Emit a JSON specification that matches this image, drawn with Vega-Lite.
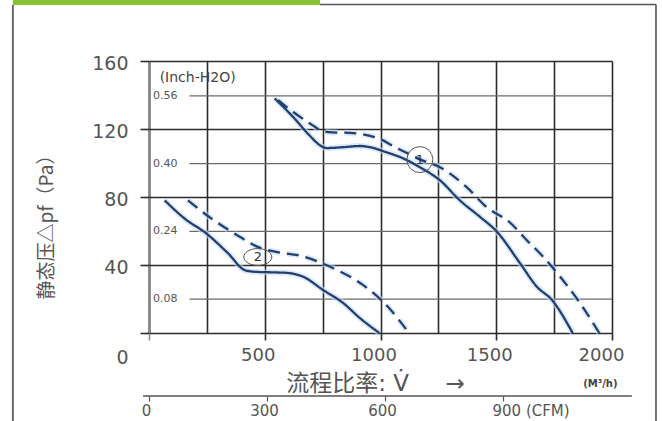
{
  "$schema": "https://vega.github.io/schema/vega-lite/v6.json",
  "width": 463,
  "height": 272,
  "autosize": {"type": "none"},
  "padding": {"left": 149, "top": 61, "right": 50, "bottom": 88},
  "background": "white",
  "config": {"view": {"stroke": null}, "font": "DejaVu Sans"},
  "datasets": {
    "curves": [
      {"curve": "1-50", "freq": "50Hz", "flow": 543, "pressure": 138},
      {"curve": "1-50", "freq": "50Hz", "flow": 623, "pressure": 127},
      {"curve": "1-50", "freq": "50Hz", "flow": 695, "pressure": 116},
      {"curve": "1-50", "freq": "50Hz", "flow": 738, "pressure": 110.5},
      {"curve": "1-50", "freq": "50Hz", "flow": 767, "pressure": 108.8},
      {"curve": "1-50", "freq": "50Hz", "flow": 839, "pressure": 109.3},
      {"curve": "1-50", "freq": "50Hz", "flow": 911, "pressure": 110},
      {"curve": "1-50", "freq": "50Hz", "flow": 954, "pressure": 109.3},
      {"curve": "1-50", "freq": "50Hz", "flow": 1026, "pressure": 106.3},
      {"curve": "1-50", "freq": "50Hz", "flow": 1100, "pressure": 102.6},
      {"curve": "1-50", "freq": "50Hz", "flow": 1170, "pressure": 97.5},
      {"curve": "1-50", "freq": "50Hz", "flow": 1257, "pressure": 89.8},
      {"curve": "1-50", "freq": "50Hz", "flow": 1343, "pressure": 78},
      {"curve": "1-50", "freq": "50Hz", "flow": 1430, "pressure": 68.3},
      {"curve": "1-50", "freq": "50Hz", "flow": 1500, "pressure": 60},
      {"curve": "1-50", "freq": "50Hz", "flow": 1603, "pressure": 41},
      {"curve": "1-50", "freq": "50Hz", "flow": 1675, "pressure": 27.3},
      {"curve": "1-50", "freq": "50Hz", "flow": 1740, "pressure": 19.5},
      {"curve": "1-50", "freq": "50Hz", "flow": 1830, "pressure": 0},
      {"curve": "1-60", "freq": "60Hz", "flow": 558, "pressure": 137},
      {"curve": "1-60", "freq": "60Hz", "flow": 623, "pressure": 130},
      {"curve": "1-60", "freq": "60Hz", "flow": 709, "pressure": 122},
      {"curve": "1-60", "freq": "60Hz", "flow": 738, "pressure": 119.5},
      {"curve": "1-60", "freq": "60Hz", "flow": 790, "pressure": 118},
      {"curve": "1-60", "freq": "60Hz", "flow": 868, "pressure": 117.7},
      {"curve": "1-60", "freq": "60Hz", "flow": 955, "pressure": 116},
      {"curve": "1-60", "freq": "60Hz", "flow": 1000, "pressure": 114},
      {"curve": "1-60", "freq": "60Hz", "flow": 1060, "pressure": 109.5},
      {"curve": "1-60", "freq": "60Hz", "flow": 1120, "pressure": 105.5},
      {"curve": "1-60", "freq": "60Hz", "flow": 1172, "pressure": 102},
      {"curve": "1-60", "freq": "60Hz", "flow": 1257, "pressure": 97.5},
      {"curve": "1-60", "freq": "60Hz", "flow": 1372, "pressure": 85.8},
      {"curve": "1-60", "freq": "60Hz", "flow": 1459, "pressure": 74},
      {"curve": "1-60", "freq": "60Hz", "flow": 1559, "pressure": 65},
      {"curve": "1-60", "freq": "60Hz", "flow": 1632, "pressure": 54.6},
      {"curve": "1-60", "freq": "60Hz", "flow": 1703, "pressure": 44.8},
      {"curve": "1-60", "freq": "60Hz", "flow": 1776, "pressure": 33.1},
      {"curve": "1-60", "freq": "60Hz", "flow": 1862, "pressure": 17.6},
      {"curve": "1-60", "freq": "60Hz", "flow": 1945, "pressure": 0},
      {"curve": "2-50", "freq": "50Hz", "flow": 68, "pressure": 78},
      {"curve": "2-50", "freq": "50Hz", "flow": 154, "pressure": 67.3},
      {"curve": "2-50", "freq": "50Hz", "flow": 248, "pressure": 58.5},
      {"curve": "2-50", "freq": "50Hz", "flow": 342, "pressure": 46.8},
      {"curve": "2-50", "freq": "50Hz", "flow": 414, "pressure": 37},
      {"curve": "2-50", "freq": "50Hz", "flow": 457, "pressure": 36},
      {"curve": "2-50", "freq": "50Hz", "flow": 558, "pressure": 35.6},
      {"curve": "2-50", "freq": "50Hz", "flow": 594, "pressure": 35.4},
      {"curve": "2-50", "freq": "50Hz", "flow": 666, "pressure": 33.1},
      {"curve": "2-50", "freq": "50Hz", "flow": 752, "pressure": 25.3},
      {"curve": "2-50", "freq": "50Hz", "flow": 839, "pressure": 17.6},
      {"curve": "2-50", "freq": "50Hz", "flow": 911, "pressure": 8.8},
      {"curve": "2-50", "freq": "50Hz", "flow": 995, "pressure": 0},
      {"curve": "2-60", "freq": "60Hz", "flow": 168, "pressure": 78},
      {"curve": "2-60", "freq": "60Hz", "flow": 270, "pressure": 67.3},
      {"curve": "2-60", "freq": "60Hz", "flow": 392, "pressure": 56.6},
      {"curve": "2-60", "freq": "60Hz", "flow": 472, "pressure": 50.5},
      {"curve": "2-60", "freq": "60Hz", "flow": 544, "pressure": 47.8},
      {"curve": "2-60", "freq": "60Hz", "flow": 652, "pressure": 45.5},
      {"curve": "2-60", "freq": "60Hz", "flow": 730, "pressure": 42},
      {"curve": "2-60", "freq": "60Hz", "flow": 794, "pressure": 38.2},
      {"curve": "2-60", "freq": "60Hz", "flow": 924, "pressure": 28.3},
      {"curve": "2-60", "freq": "60Hz", "flow": 1032, "pressure": 15.4},
      {"curve": "2-60", "freq": "60Hz", "flow": 1123, "pressure": 0}
    ],
    "inch": [
      {"label": "0.56", "pa": 139.5},
      {"label": "0.40", "pa": 99.6},
      {"label": "0.24", "pa": 59.8},
      {"label": "0.08", "pa": 19.9}
    ],
    "markers": [
      {"label": "1", "flow": 1170, "pressure": 102},
      {"label": "2", "flow": 470, "pressure": 44.7}
    ]
  },
  "resolve": {"axis": {"x": "independent", "y": "independent"}},
  "layer": [
    {
      "data": {"values": [{}]},
      "mark": {"type": "rect", "color": "#86c232", "clip": false},
      "encoding": {
        "x": {"datum": -588, "scale": {"domain": [0, 2000], "nice": false, "zero": false}, "axis": null},
        "x2": {"datum": 739},
        "y": {"datum": 196, "scale": {"domain": [0, 160], "nice": false, "zero": false}, "axis": null},
        "y2": {"datum": 193}
      }
    },
    {
      "data": {"values": [{}]},
      "mark": {"type": "rule", "color": "#555555", "strokeWidth": 1.6, "clip": false},
      "encoding": {
        "x": {"datum": 739, "scale": {"domain": [0, 2000], "nice": false, "zero": false}, "axis": null},
        "x2": {"datum": 2190},
        "y": {"datum": 193.2, "scale": {"domain": [0, 160], "nice": false, "zero": false}, "axis": null}
      }
    },
    {
      "data": {"values": [{}]},
      "mark": {"type": "rule", "color": "#666666", "strokeWidth": 2, "clip": false},
      "encoding": {
        "x": {"datum": -588, "scale": {"domain": [0, 2000], "nice": false, "zero": false}, "axis": null},
        "y": {"datum": 193, "scale": {"domain": [0, 160], "nice": false, "zero": false}, "axis": null},
        "y2": {"datum": -54}
      }
    },
    {
      "data": {"values": [{}]},
      "mark": {"type": "rule", "color": "#555555", "strokeWidth": 1.6, "clip": false},
      "encoding": {
        "x": {"datum": 2190, "scale": {"domain": [0, 2000], "nice": false, "zero": false}, "axis": null},
        "y": {"datum": 193.2, "scale": {"domain": [0, 160], "nice": false, "zero": false}, "axis": null},
        "y2": {"datum": -54}
      }
    },
    {
      "data": {"name": "inch"},
      "mark": {"type": "rule", "color": "#6a6a6a", "strokeWidth": 1.3, "clip": false},
      "encoding": {
        "x": {"datum": 175, "scale": {"domain": [0, 2000], "nice": false, "zero": false},
          "axis": {"orient": "top", "values": [0, 250, 500, 750, 1000, 1250, 1500, 1750, 2000], "grid": true,
            "gridColor": {"condition": {"test": "datum.value === 0", "value": "#8c8c8c"}, "value": "#2b2b2b"},
            "gridWidth": {"condition": {"test": "datum.value === 0", "value": 3}, "value": 1.6},
            "labels": false, "ticks": false, "domain": false, "title": null}},
        "x2": {"datum": 2000},
        "y": {"field": "pa", "type": "quantitative", "scale": {"domain": [0, 160], "nice": false, "zero": false},
          "axis": {"orient": "left", "values": [0, 40, 80, 120, 160], "grid": true, "gridColor": "#2b2b2b", "gridWidth": 1.6, "domain": false,
            "tickSize": 9, "tickColor": "#2b2b2b", "tickWidth": 1.6, "labelPadding": 12, "labelFontSize": 19,
            "labelColor": "#555555", "labelFont": "DejaVu Sans",
            "labelOffset": {"condition": {"test": "datum.value === 0", "value": 24}, "value": 2},
            "title": "静态压△pf（Pa）", "titleFont": "Noto Sans CJK SC", "titleFontSize": 19, "titleFontWeight": "normal",
            "titleColor": "#555555", "titleX": -103, "titleY": 161, "titleAlign": "center", "titleBaseline": "middle", "titleAngle": 270}}
      }
    },
    {
      "data": {"name": "inch"},
      "mark": {"type": "text", "align": "left", "baseline": "middle", "fontSize": 11, "color": "#555555", "font": "DejaVu Sans", "clip": false},
      "encoding": {
        "x": {"datum": 17, "scale": {"domain": [0, 2000], "nice": false, "zero": false}, "axis": null},
        "y": {"field": "pa", "type": "quantitative", "scale": {"domain": [0, 160], "nice": false, "zero": false}, "axis": null},
        "text": {"field": "label"}
      }
    },
    {
      "data": {"values": [{}]},
      "mark": {"type": "text", "align": "left", "baseline": "middle", "fontSize": 14, "color": "#444444", "font": "DejaVu Sans", "text": "(Inch-H2O)", "clip": false},
      "encoding": {
        "x": {"datum": 46, "scale": {"domain": [0, 2000], "nice": false, "zero": false}, "axis": null},
        "y": {"datum": 150, "scale": {"domain": [0, 160], "nice": false, "zero": false}, "axis": null}
      }
    },
    {
      "data": {"values": [{}]},
      "mark": {"type": "text", "align": "center", "baseline": "middle", "fontSize": 10, "fontWeight": "bold", "color": "#444444", "font": "DejaVu Sans", "text": "(M³/h)", "clip": false},
      "encoding": {
        "x": {"datum": 1950, "scale": {"domain": [0, 2000], "nice": false, "zero": false}, "axis": null},
        "y": {"datum": -30, "scale": {"domain": [0, 160], "nice": false, "zero": false}, "axis": null}
      }
    },
    {
      "data": {"values": [{}]},
      "mark": {"type": "rule", "color": "#555555", "strokeWidth": 1.5, "clip": false},
      "encoding": {
        "x": {"datum": -26, "scale": {"domain": [0, 2000], "nice": false, "zero": false}, "axis": null},
        "x2": {"datum": 2086},
        "y": {"datum": -37.1, "scale": {"domain": [0, 160], "nice": false, "zero": false}, "axis": null}
      }
    },
    {
      "data": {"name": "curves"},
      "mark": {"type": "line", "interpolate": "monotone", "strokeWidth": 6, "color": "#c8dcf0", "opacity": 0.6, "clip": false},
      "encoding": {
        "x": {"field": "flow", "type": "quantitative", "scale": {"domain": [0, 2000], "nice": false, "zero": false}, "axis": null},
        "y": {"field": "pressure", "type": "quantitative", "scale": {"domain": [0, 160], "nice": false, "zero": false}, "axis": null},
        "detail": {"field": "curve"},
        "strokeDash": {"field": "freq", "type": "nominal", "scale": {"domain": ["50Hz", "60Hz"], "range": [[1, 0], [12, 7]]}, "legend": null}
      }
    },
    {
      "data": {"name": "curves"},
      "mark": {"type": "line", "interpolate": "monotone", "strokeWidth": 2.3, "color": "#213f70", "clip": false},
      "encoding": {
        "x": {"field": "flow", "type": "quantitative", "scale": {"domain": [0, 2000], "nice": false, "zero": false},
          "axis": {"orient": "bottom", "values": [0, 500, 1000, 1500, 2000], "grid": false, "domain": false,
            "tickSize": 7, "tickWidth": 1.6,
            "tickColor": {"condition": {"test": "datum.value === 0", "value": "#8c8c8c"}, "value": "#2b2b2b"},
            "labelExpr": "datum.value === 0 ? '' : datum.label", "format": "d", "labelFlush": false,
            "labelOffset": {"condition": {"test": "datum.value === 2000", "value": -11}, "value": -7},
            "labelPadding": 6, "labelFontSize": 18, "labelColor": "#555555", "labelFont": "DejaVu Sans",
            "title": "流程比率: V̇\u00a0\u00a0\u00a0\u00a0\u00a0→", "titleFont": "DejaVu Sans, Noto Sans CJK SC", "titleFontSize": 23, "titleFontWeight": "normal",
            "titleColor": "#555555", "titleX": 226, "titleY": 50, "titleBaseline": "middle", "titleAlign": "center", "titleAnchor": null}},
        "y": {"field": "pressure", "type": "quantitative", "scale": {"domain": [0, 160], "nice": false, "zero": false}, "axis": null},
        "detail": {"field": "curve"},
        "strokeDash": {"field": "freq", "type": "nominal", "scale": {"domain": ["50Hz", "60Hz"], "range": [[1, 0], [12, 7]]},
          "legend": {"orient": "none", "legendX": 258, "legendY": -34, "direction": "horizontal", "title": null,
            "symbolType": "stroke", "symbolSize": 1000, "symbolStrokeWidth": 2.5, "symbolStrokeColor": "#213f70",
            "labelFontSize": 22, "labelColor": "#444444", "labelFont": "DejaVu Sans", "columnPadding": 4, "labelOffset": 2, "padding": 0}}
      }
    },
    {
      "data": {"name": "markers"},
      "transform": [{"filter": "datum.label === '1'"}],
      "mark": {"type": "point", "shape": "circle", "size": 676, "filled": false, "stroke": "#555555", "strokeWidth": 1, "opacity": 1, "clip": false},
      "encoding": {
        "x": {"field": "flow", "type": "quantitative", "scale": {"domain": [0, 2000], "nice": false, "zero": false},
          "axis": {"orient": "bottom", "offset": 63, "values": [0, 509.7, 1019.4, 1529.1], "grid": false, "domain": false,
            "tickSize": 5, "tickColor": "#555555", "tickWidth": 1.2, "labelPadding": 2,
            "labelExpr": "format(round(datum.value / 1.699), 'd') + (datum.value > 1500 ? ' (CFM)' : '')",
            "labelFlush": false,
            "labelAlign": {"condition": {"test": "datum.value > 1500", "value": "left"}, "value": "center"},
            "labelOffset": {"condition": {"test": "datum.value > 1500", "value": -11}, "value": -3},
            "labelFontSize": 15, "labelColor": "#555555", "labelFont": "DejaVu Sans", "title": null}},
        "y": {"field": "pressure", "type": "quantitative", "scale": {"domain": [0, 160], "nice": false, "zero": false}, "axis": null}
      }
    },
    {
      "data": {"name": "markers"},
      "transform": [{"filter": "datum.label === '2'"}],
      "mark": {"type": "point", "shape": "M-1,0A1,0.6,0,1,0,1,0A1,0.6,0,1,0,-1,0Z", "size": 784, "filled": false, "stroke": "#555555", "strokeWidth": 1, "opacity": 1, "clip": false},
      "encoding": {
        "x": {"field": "flow", "type": "quantitative", "scale": {"domain": [0, 2000], "nice": false, "zero": false}, "axis": null},
        "y": {"field": "pressure", "type": "quantitative", "scale": {"domain": [0, 160], "nice": false, "zero": false}, "axis": null}
      }
    },
    {
      "data": {"name": "markers"},
      "mark": {"type": "text", "align": "center", "baseline": "middle", "fontSize": 13, "color": "#333333", "font": "DejaVu Sans", "clip": false},
      "encoding": {
        "x": {"field": "flow", "type": "quantitative", "scale": {"domain": [0, 2000], "nice": false, "zero": false}, "axis": null},
        "y": {"field": "pressure", "type": "quantitative", "scale": {"domain": [0, 160], "nice": false, "zero": false}, "axis": null},
        "text": {"field": "label"}
      }
    }
  ]
}
